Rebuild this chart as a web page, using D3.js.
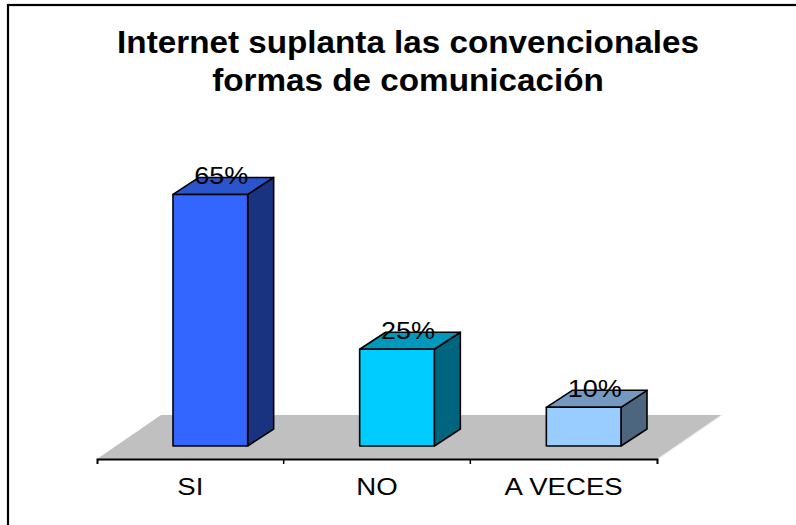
<!DOCTYPE html>
<html>
<head>
<meta charset="utf-8">
<script src="https://cdn.jsdelivr.net/npm/d3@7"></script>
<style>
  body { margin: 0; background: #fff; }
  text { font-family: Arial, "Liberation Sans", sans-serif; fill: #000; }
</style>
</head>
<body>
<div id="chart"></div>
<script>
const titleLines = ["Internet suplanta las convencionales", "formas de comunicación"];
const categories = ["SI", "NO", "A VECES"];
const values = [65, 25, 10];
const frontColors = ["#3366ff", "#00ccff", "#99ccff"];
const topColors = ["#2a55cc", "#0099bb", "#7399c0"];
const sideColors = ["#1a3380", "#006680", "#4c6680"];

const width = 796, height = 525;
const stretch = 1.15; // text in the picture is a little wide

const svg = d3.select("#chart")
    .append("svg")
    .attr("width", width)
    .attr("height", height);

// chart frame (right and bottom edges fall outside the picture)
svg.append("rect")
    .attr("x", 8).attr("y", 5)
    .attr("width", 820).attr("height", 540)
    .attr("fill", "none")
    .attr("stroke", "#000")
    .attr("stroke-width", 2.2);

// title
svg.selectAll(".title")
    .data(titleLines)
    .enter().append("text")
    .attr("class", "title")
    .attr("transform", (d, i) => `translate(408,${53 + i * 38}) scale(1.09,1)`)
    .attr("text-anchor", "middle")
    .style("font-size", "30.5px")
    .style("font-weight", "bold")
    .text(d => d);

// 3d geometry
const axisY = 459;
const floorDepth = [64, -44];
const barShift = [19, -13];   // front plane of the bars inside the floor
const barDepth = [26, -17];

const x = d3.scaleBand().domain(categories).range([97, 657]);
const xBar = d3.scaleBand().domain(categories).range([97, 657])
    .paddingInner(0.6).paddingOuter(0.3);
const y = d3.scaleLinear().domain([0, 100]).range([axisY + barShift[1], axisY + barShift[1] - 387]);

// floor
const [x0, x1] = x.range();
svg.append("polygon")
    .attr("points", [
        [x0, axisY], [x1, axisY],
        [x1 + floorDepth[0], axisY + floorDepth[1]],
        [x0 + floorDepth[0], axisY + floorDepth[1]]
    ].map(p => p.join(",")).join(" "))
    .attr("fill", "#c0c0c0");
svg.append("line")
    .attr("x1", x1 + 1).attr("y1", axisY)
    .attr("x2", x1 + floorDepth[0] + 1).attr("y2", axisY + floorDepth[1])
    .attr("stroke", "#e8e8e8").attr("stroke-width", 1);

// bars
const bars = svg.selectAll(".bar")
    .data(categories)
    .enter().append("g")
    .attr("class", "bar");

bars.each(function(c, i) {
    const g = d3.select(this);
    const bx = xBar(c) + barShift[0] + 1;
    const bw = xBar.bandwidth();
    const top = y(values[i]);
    const bottom = y(0);
    const [dx, dy] = barDepth;
    const pts = a => a.map(p => p.join(",")).join(" ");

    g.append("polygon")
        .attr("points", pts([[bx + bw, top], [bx + bw + dx, top + dy], [bx + bw + dx, bottom + dy], [bx + bw, bottom]]))
        .attr("fill", sideColors[i]);
    g.append("polygon")
        .attr("points", pts([[bx, top], [bx + dx, top + dy], [bx + bw + dx, top + dy], [bx + bw, top]]))
        .attr("fill", topColors[i]);
    g.append("rect")
        .attr("x", bx).attr("y", top)
        .attr("width", bw).attr("height", bottom - top)
        .attr("fill", frontColors[i]);
    g.selectAll("polygon, rect")
        .attr("stroke", "#000")
        .attr("stroke-width", 1.6)
        .attr("stroke-linejoin", "round");

    g.append("text")
        .attr("transform", `translate(${bx + bw / 2 + dx / 2 - 2},${top - 10}) scale(${stretch},1)`)
        .attr("text-anchor", "middle")
        .style("font-size", "23.5px")
        .text(values[i] + "%");
});

// category axis
const axis = svg.append("g")
    .attr("transform", `translate(0,${axisY})`)
    .call(d3.axisBottom(x).tickSizeInner(0).tickSizeOuter(5).tickPadding(0));
axis.select(".domain").attr("stroke", "#000").attr("stroke-width", 2);
axis.selectAll(".tick text")
    .attr("y", null).attr("dy", null)
    .attr("transform", `translate(0,36) scale(${stretch},1)`)
    .style("font-size", "24px")
    .style("font-family", "Arial, 'Liberation Sans', sans-serif")
    .attr("fill", "#000");

axis.selectAll(".sep")
    .data(categories.slice(1))
    .enter().append("line")
    .attr("class", "sep")
    .attr("x1", d => x(d)).attr("x2", d => x(d))
    .attr("y1", 0).attr("y2", 5)
    .attr("stroke", "#000").attr("stroke-width", 1.5);
</script>
</body>
</html>
